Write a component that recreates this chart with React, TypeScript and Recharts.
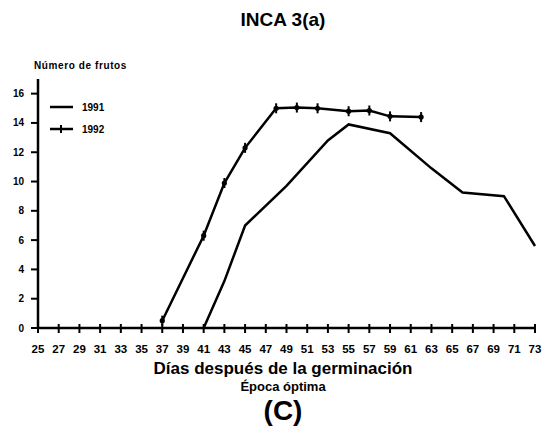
import { Line, LineChart, XAxis, YAxis } from 'recharts'

// Días después de la germinación (eje X) y número de frutos
const xTicks = [25, 27, 29, 31, 33, 35, 37, 39, 41, 43, 45, 47, 49, 51, 53, 55, 57, 59, 61, 63, 65, 67, 69, 71, 73]
const yTicks = [0, 2, 4, 6, 8, 10, 12, 14, 16]

const days1991 = [41, 43, 45, 49, 53, 55, 59, 63, 66, 70, 73]
const fruits1991 = [0, 3.2, 7.0, 9.7, 12.8, 13.9, 13.3, 10.9, 9.25, 9.0, 5.6]

const days1992 = [37, 41, 43, 45, 48, 50, 52, 55, 57, 59, 62]
const fruits1992 = [0.5, 6.3, 9.9, 12.3, 15.0, 15.05, 15.0, 14.8, 14.85, 14.45, 14.4]

const s1991 = days1991.map((d, i) => ({ day: d, v: fruits1991[i] }))
const s1992 = days1992.map((d, i) => ({ day: d, v: fruits1992[i] }))

const FONT = '"Liberation Sans", Arial, sans-serif'

function XTick({ x, y, payload }: any) {
  return (
    <g>
      <line x1={x} x2={x} y1={y - 4} y2={y + 5} stroke="#000" strokeWidth={2} />
      <text
        x={x}
        y={y + 25}
        textAnchor="middle"
        fontFamily={FONT}
        fontWeight={700}
        fontSize={11.5}
        fill="#000"
      >
        {payload.value}
      </text>
    </g>
  )
}

function CrossDot({ cx, cy }: any) {
  if (cx == null || cy == null) return null
  return (
    <g>
      <line x1={cx} x2={cx} y1={cy - 5} y2={cy + 5} stroke="#000" strokeWidth={2} />
      <circle cx={cx} cy={cy} r={2.6} fill="#000" />
    </g>
  )
}

const textStyle = { position: 'absolute', fontFamily: FONT, fontWeight: 700, color: '#000', whiteSpace: 'nowrap', lineHeight: 1 } as const

export default function App() {
  return (
    <div style={{ position: 'absolute', left: 0, top: 0, width: 546, height: 443, background: '#fff' }}>
      <LineChart width={546} height={443} margin={{ top: 79, right: 11, left: 0, bottom: 0 }}>
        <XAxis
          type="number"
          dataKey="day"
          domain={[25, 73]}
          ticks={xTicks}
          interval={0}
          height={115}
          tickSize={0}
          tickMargin={0}
          tickLine={false}
          tick={<XTick />}
          axisLine={{ stroke: '#000', strokeWidth: 2.5 }}
          allowDuplicatedCategory={false}
        />
        <YAxis
          type="number"
          domain={[0, 17]}
          ticks={yTicks}
          interval={0}
          width={38}
          tickSize={7}
          tickMargin={7}
          tickLine={{ stroke: '#000', strokeWidth: 2 }}
          axisLine={{ stroke: '#000', strokeWidth: 2.5 }}
          tick={{ fontFamily: FONT, fontWeight: 700, fontSize: 10, fill: '#000' }}
        />
        <Line
          data={s1991}
          dataKey="v"
          type="linear"
          stroke="#000"
          strokeWidth={2.5}
          dot={false}
          isAnimationActive={false}
        />
        <Line
          data={s1992}
          dataKey="v"
          type="linear"
          stroke="#000"
          strokeWidth={2.5}
          dot={<CrossDot />}
          isAnimationActive={false}
        />
      </LineChart>

      <div style={{ ...textStyle, left: 0, width: 566, top: 10, textAlign: 'center', fontSize: 19 }}>INCA 3(a)</div>
      <div style={{ ...textStyle, left: 34, top: 61, fontSize: 10, letterSpacing: 0.6 }}>Número de frutos</div>

      <svg style={{ position: 'absolute', left: 46, top: 98 }} width={80} height={40}>
        <line x1={4} x2={27} y1={9} y2={9} stroke="#000" strokeWidth={2.5} />
        <text x={36} y={13} fontFamily={FONT} fontWeight={700} fontSize={10} fill="#000">1991</text>
        <line x1={4} x2={27} y1={31} y2={31} stroke="#000" strokeWidth={2.5} />
        <line x1={15} x2={15} y1={27} y2={35} stroke="#000" strokeWidth={2} />
        <text x={36} y={35} fontFamily={FONT} fontWeight={700} fontSize={10} fill="#000">1992</text>
      </svg>

      <div style={{ ...textStyle, left: 0, width: 566, top: 360, textAlign: 'center', fontSize: 17 }}>Días después de la germinación</div>
      <div style={{ ...textStyle, left: 0, width: 566, top: 380, textAlign: 'center', fontSize: 13 }}>Época óptima</div>
      <div style={{ ...textStyle, left: 0, width: 566, top: 397, textAlign: 'center', fontSize: 28 }}>(C)</div>
    </div>
  )
}
